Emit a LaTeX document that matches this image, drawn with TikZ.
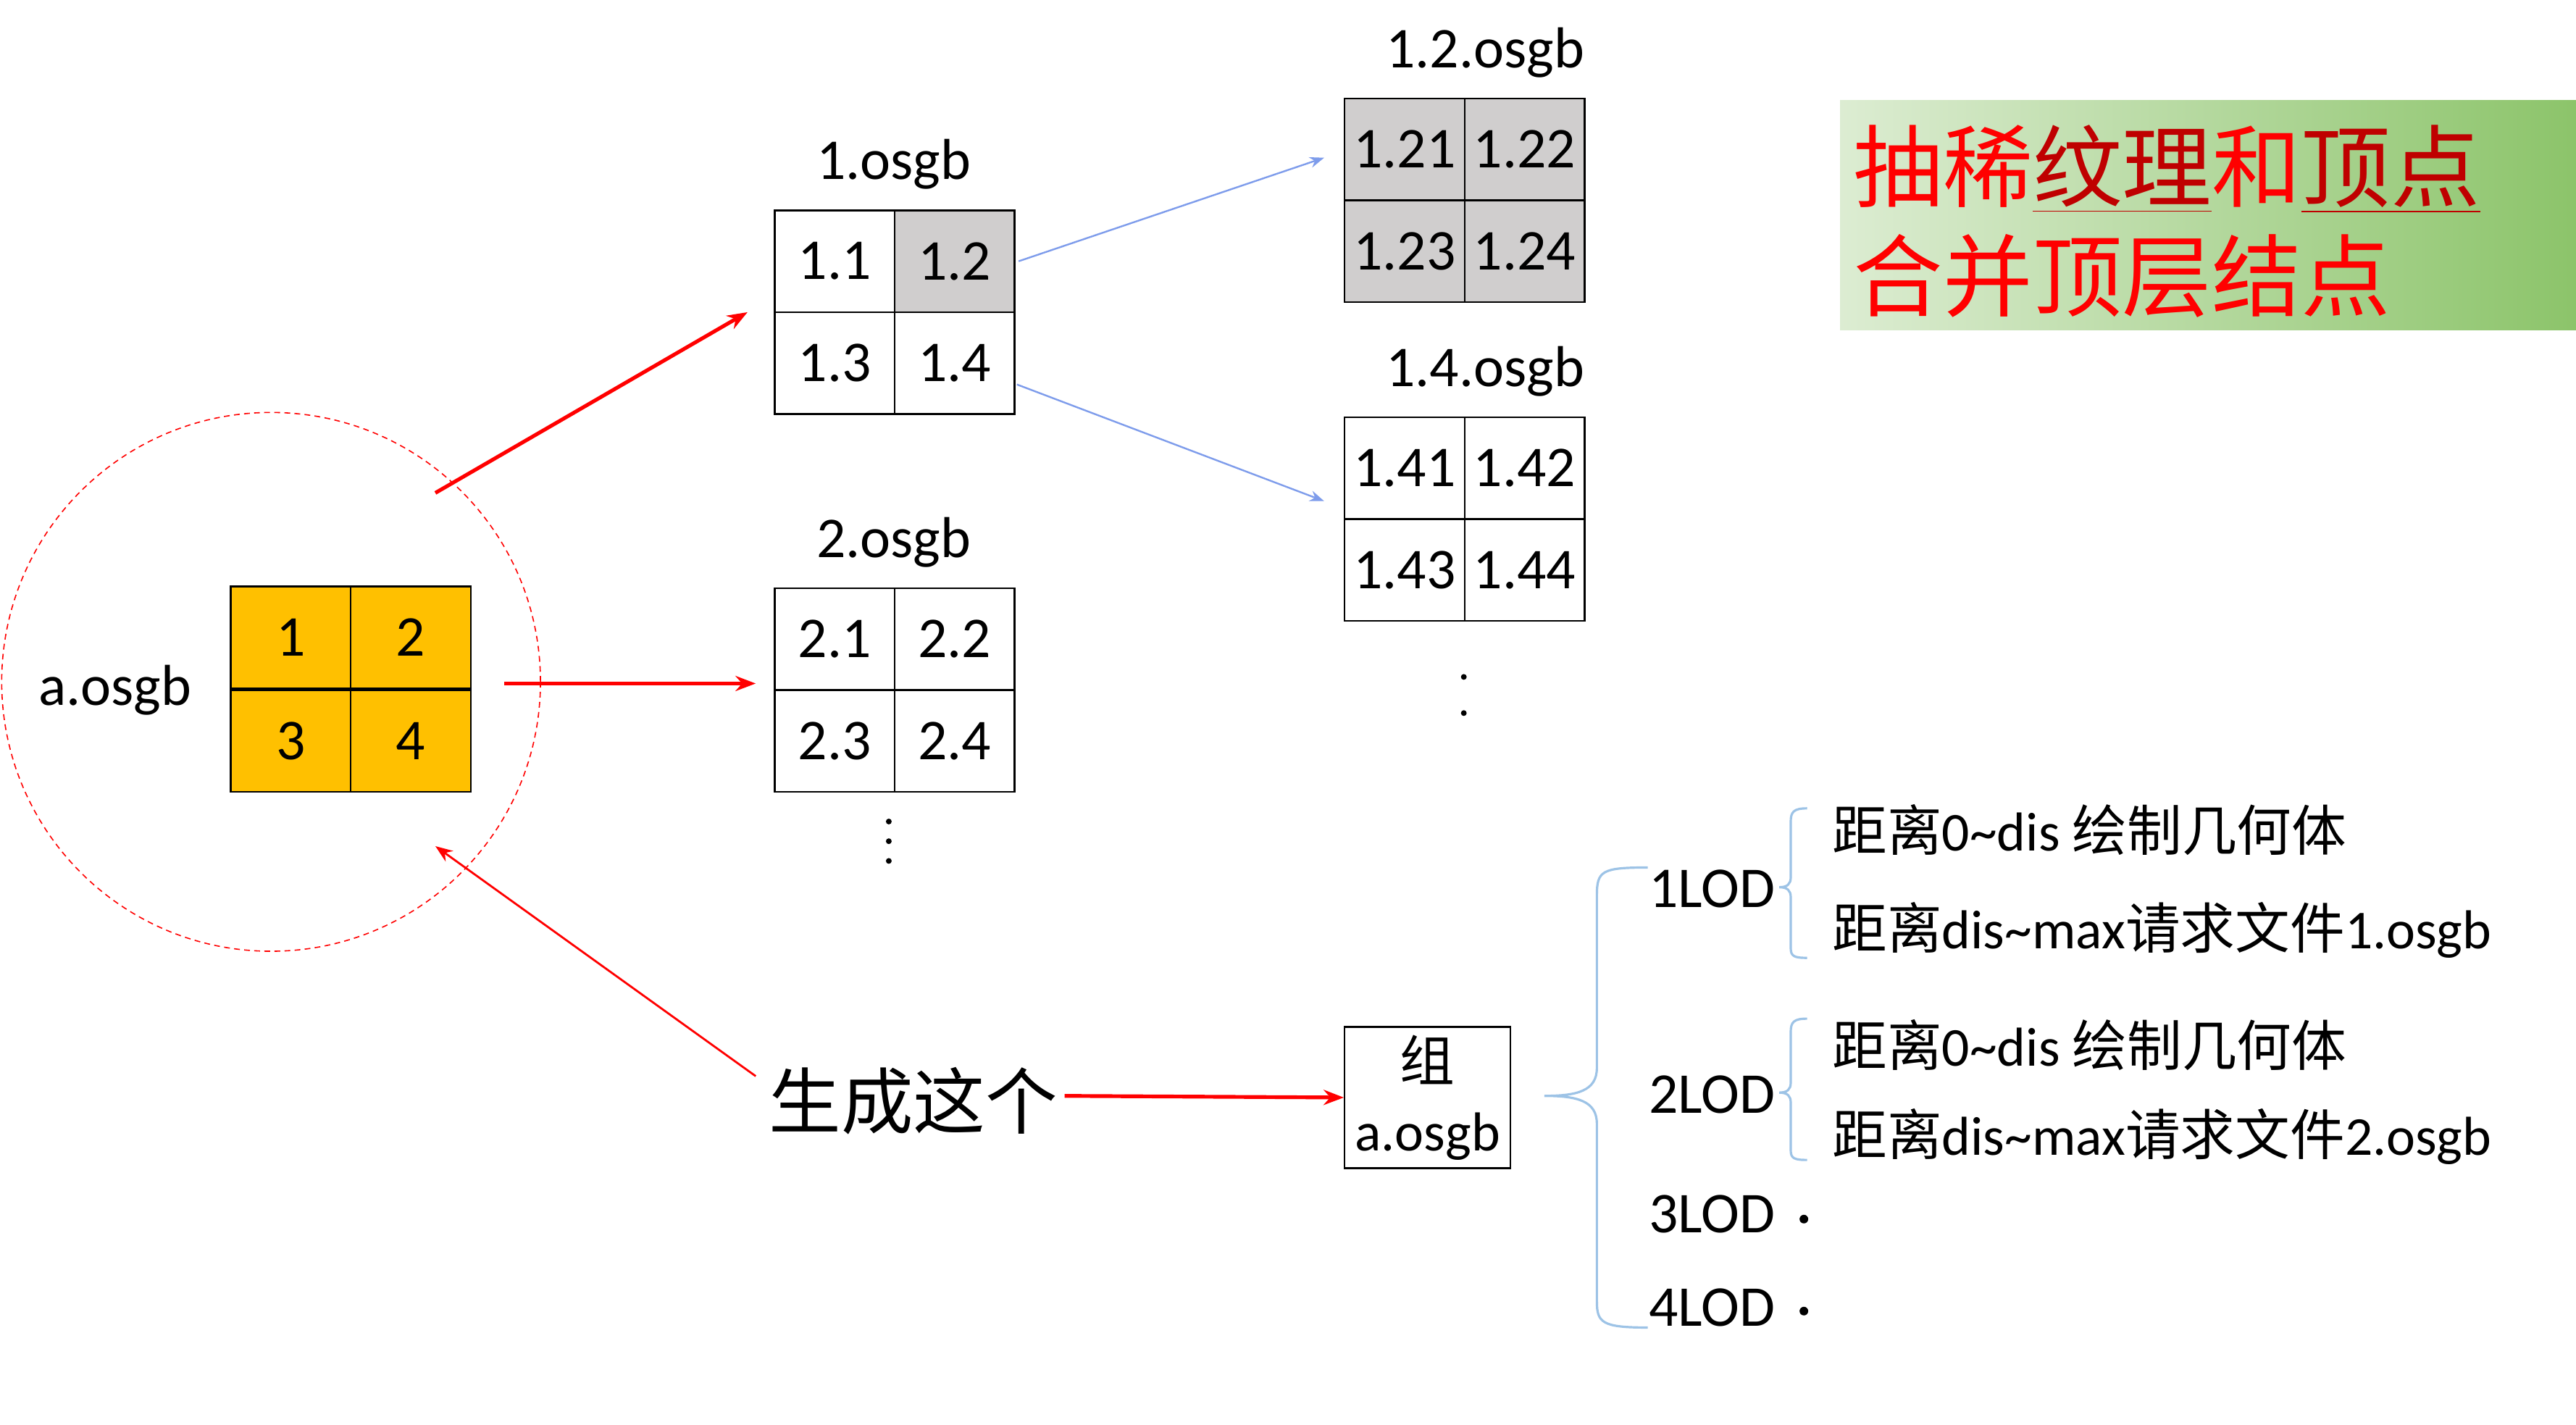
\documentclass[tikz,border=0pt]{standalone}
\usepackage{fontspec}
\setmainfont{Carlito}
\newfontfamily\cjk{Noto Sans CJK SC}
\usetikzlibrary{arrows.meta}
\definecolor{orng}{HTML}{FFC000}
\definecolor{gry}{HTML}{D0CECE}
\definecolor{lblue}{HTML}{9DC3E6}
\definecolor{gA}{HTML}{C5E0B4}
\definecolor{gB}{HTML}{8CC46A}
\begin{document}
\begin{tikzpicture}[x=0.02cm,y=-0.02cm,
  cell/.style={draw=black,line width=0.6pt,minimum width=1.46cm,minimum height=1.24cm,inner sep=0pt,font=\fontsize{20}{22}\selectfont},
  lab/.style={font=\fontsize{20}{22}\selectfont,inner sep=0pt},
  redar/.style={red,line width=1.3pt,-{Stealth[length=7pt]}},
  redthin/.style={red,line width=0.7pt,-{Stealth[length=6pt]}},
  bluear/.style={lblue!80!blue,line width=0.6pt,-{Stealth[length=5pt]}},
  brc/.style={lblue,line width=0.8pt},
  cjkt/.style={font=\fontsize{19}{22}\selectfont,inner sep=0pt,anchor=west}]
\useasboundingbox (0,0) rectangle (1568,867);
% circle
\node[draw=red,dashed,dash pattern=on 2pt off 1.5pt,circle,minimum size=6.56cm,inner sep=0pt] (circ) at (165,415) {};
\node[lab] (aname) at (70,420) {a.osgb};
% orange grid
\foreach \t/\x/\y in {1/177/388,2/250/388,3/177/451,4/250/451}
  \node[cell,fill=orng] (o\t) at (\x,\y) {\t};
% 1.osgb
\node[lab] (l1) at (544,100) {1.osgb};
\node[cell] (c11) at (508,159) {1.1};
\node[cell,fill=gry] (c12) at (581,159) {1.2};
\node[cell] (c13) at (508,221) {1.3};
\node[cell] (c14) at (581,221) {1.4};
% 2.osgb
\node[lab] (l2) at (544,330) {2.osgb};
\node[cell] (c21) at (508,389) {2.1};
\node[cell] (c22) at (581,389) {2.2};
\node[cell] (c23) at (508,451) {2.3};
\node[cell] (c24) at (581,451) {2.4};
\foreach \yy in {500,512,524} \fill (541,\yy) circle (1pt);
% 1.2.osgb
\node[lab] (l12) at (904,32) {1.2.osgb};
\node[cell,fill=gry] (d1) at (855,91) {1.21};
\node[cell,fill=gry] (d2) at (928,91) {1.22};
\node[cell,fill=gry] (d3) at (855,153) {1.23};
\node[cell,fill=gry] (d4) at (928,153) {1.24};
% 1.4.osgb
\node[lab] (l14) at (904,226) {1.4.osgb};
\node[cell] (e1) at (855,285) {1.41};
\node[cell] (e2) at (928,285) {1.42};
\node[cell] (e3) at (855,347) {1.43};
\node[cell] (e4) at (928,347) {1.44};
\foreach \yy in {412,434} \fill (891,\yy) circle (1pt);
% arrows
\coordinate (r1s) at (265,300); \coordinate (r1e) at (455,190);
\draw[redar] (r1s) -- (r1e);
\coordinate (r2s) at (307,416); \coordinate (r2e) at (460,416);
\draw[redar] (r2s) -- (r2e);
\node[font=\cjk\fontsize{25}{28}\selectfont,inner sep=0pt] (gen) at (556,670) {生成这个};
\coordinate (r3e) at (265,515);
\draw[redthin] (460,655) -- (r3e);
\node[draw,line width=0.6pt,minimum width=2.02cm,minimum height=1.72cm,inner sep=0pt,align=center,font=\fontsize{19}{24}\selectfont] (grp) at (869,668) {{\cjk 组}\\a.osgb};
\draw[redar] (648,667) -- (grp.west);
\coordinate (b1e) at (806,96); \coordinate (b2e) at (806,305);
\draw[bluear] (c12.east) ++(2,0) -- (b1e);
\draw[bluear] (619,234) -- (b2e);
% braces
\draw[brc] (1003,528) .. controls (975,528) and (972,530) .. (972,545) -- (972,650) .. controls (972,664) and (960,667) .. (940,667)
  .. controls (960,667) and (972,670) .. (972,684) -- (972,792) .. controls (972,805) and (975,808) .. (1003,808);
\draw[brc] (1100,492) .. controls (1092,492) and (1090,494) .. (1090,500) -- (1090,534) .. controls (1090,538) and (1088,540) .. (1083,540)
  .. controls (1088,540) and (1090,542) .. (1090,546) -- (1090,577) .. controls (1090,582) and (1092,583) .. (1100,583);
\draw[brc] (1100,620) .. controls (1092,620) and (1090,622) .. (1090,628) -- (1090,659) .. controls (1090,663) and (1088,665) .. (1083,665)
  .. controls (1088,665) and (1090,667) .. (1090,671) -- (1090,700) .. controls (1090,705) and (1092,706) .. (1100,706);
\node[lab] (lod1) at (1042,541) {1LOD};
\node[lab] (lod2) at (1042,666) {2LOD};
\node[lab] (lod3) at (1042,739) {3LOD};
\node[lab] (lod4) at (1042,796) {4LOD};
\fill (1098,742) circle (1.5pt);
\fill (1098,798) circle (1.5pt);
\node[cjkt] (t1) at (1115,505) {{\cjk 距离}0\string~dis {\cjk 绘制几何体}};
\node[cjkt] (t2) at (1115,566) {{\cjk 距离}dis\string~max{\cjk 请求文件}1.osgb};
\node[cjkt] (t3) at (1115,636) {{\cjk 距离}0\string~dis {\cjk 绘制几何体}};
\node[cjkt] (t4) at (1115,692) {{\cjk 距离}dis\string~max{\cjk 请求文件}2.osgb};
% title box
\shade[left color=gA,right color=gB,shading angle=0] (1120,61) rectangle (1568,201);
\fill[left color=gA!60!white,right color=gB] (1120,61) rectangle (1568,201);
\node[anchor=west,inner sep=0pt,text=red,font=\cjk\fontsize{31}{34}\selectfont] (tt1) at (1128,103)
  {抽稀\textcolor{red!75!black}{\underline{纹理}}和\textcolor{red!75!black}{\underline{顶点}}};
\node[anchor=west,inner sep=0pt,text=red,font=\cjk\fontsize{31}{34}\selectfont] (tt2) at (1128,168) {合并顶层结点};
\end{tikzpicture}
\end{document}
